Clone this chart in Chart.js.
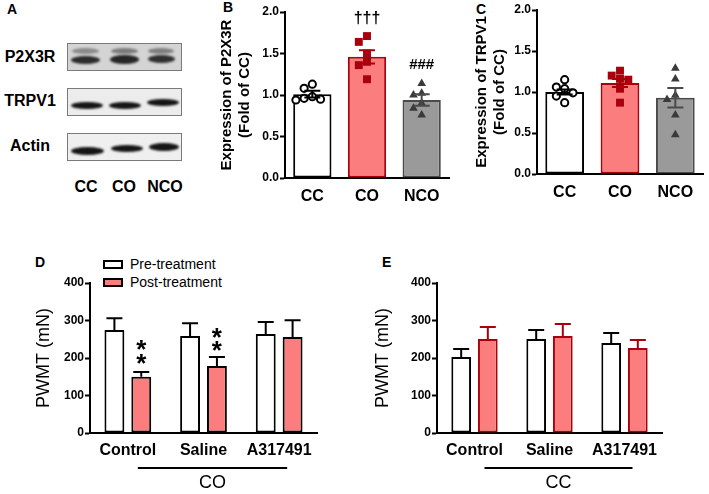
<!DOCTYPE html>
<html>
<head>
<meta charset="utf-8">
<script src="https://cdn.jsdelivr.net/npm/chart.js@4.4.1/dist/chart.umd.min.js"></script>
<style>
  body { margin: 0; background: #fff; }
  #fig { position: relative; width: 709px; height: 494px; overflow: hidden; background: #fff;
         font-family: 'Liberation Sans', Arial, sans-serif; color: #000; }
  #fig canvas { position: absolute; }
  .letter { position: absolute; font-weight: bold; font-size: 14px; line-height: 1; }
  .blotname { position: absolute; left: 0; width: 60px; text-align: center; font-weight: bold; font-size: 16px; line-height: 18px; }
  .lane { position: absolute; top: 178px; font-weight: bold; font-size: 16px; line-height: 18px; width: 44px; text-align: center; }
  .blot { position: absolute; left: 67px; width: 115px; height: 28px; border: 1.5px solid #7a7a7a; box-sizing: border-box; overflow: hidden; }
  .band { position: absolute; border-radius: 50%; background: #151515; filter: blur(1.3px); }
  .key { position: absolute; left: 103px; width: 20px; height: 9px; border: 2px solid #000; box-sizing: border-box; }
  .keytxt { position: absolute; left: 130px; font-size: 14px; line-height: 16px; }
</style>
</head>
<body>
<div id="fig">
  <!-- panel A: blot picture -->
  <div class="letter" style="left:7px;top:2px">A</div>
  <div class="blotname" style="top:48px">P2X3R</div>
  <div class="blotname" style="top:92px">TRPV1</div>
  <div class="blotname" style="top:137px">Actin</div>
  <div class="blot" style="top:43px;background:#d4d4d4">
    <div class="band" style="left:4px;top:4px;width:27px;height:6px;background:#8a8a8a"></div>
    <div class="band" style="left:3px;top:12px;width:29px;height:8px;background:#2c2c2c"></div>
    <div class="band" style="left:43px;top:4px;width:27px;height:6px;background:#7a7a7a"></div>
    <div class="band" style="left:42px;top:11px;width:29px;height:9px;background:#262626"></div>
    <div class="band" style="left:80px;top:4px;width:26px;height:6px;background:#7e7e7e"></div>
    <div class="band" style="left:80px;top:11px;width:27px;height:8px;background:#303030"></div>
  </div>
  <div class="blot" style="top:88px;background:#ececec">
    <div class="band" style="left:3px;top:13px;width:32px;height:7px"></div>
    <div class="band" style="left:41px;top:13px;width:32px;height:7px"></div>
    <div class="band" style="left:79px;top:10px;width:32px;height:7px"></div>
  </div>
  <div class="blot" style="top:133px;background:#efefef">
    <div class="band" style="left:3px;top:13px;width:33px;height:8px"></div>
    <div class="band" style="left:43px;top:11px;width:32px;height:7px"></div>
    <div class="band" style="left:81px;top:9px;width:30px;height:8px"></div>
  </div>
  <div class="lane" style="left:64px">CC</div>
  <div class="lane" style="left:102px">CO</div>
  <div class="lane" style="left:143px">NCO</div>

  <div class="letter" style="left:223px;top:0px">B</div>
  <div class="letter" style="left:476px;top:2px">C</div>
  <div class="letter" style="left:35px;top:255px">D</div>
  <div class="letter" style="left:382px;top:255px">E</div>

  <div class="key" style="top:260px;background:#fff"></div>
  <div class="keytxt" style="top:256px">Pre-treatment</div>
  <div class="key" style="top:278px;background:#fb7d7d"></div>
  <div class="keytxt" style="top:274px">Post-treatment</div>

  <canvas id="chartB" width="265" height="215" style="left:190px;top:0px"></canvas>
  <canvas id="chartC" width="269" height="215" style="left:440px;top:0px"></canvas>
  <canvas id="chartD" width="330" height="244" style="left:0px;top:250px"></canvas>
  <canvas id="chartE" width="349" height="244" style="left:360px;top:250px"></canvas>
</div>

<script>
// ---- data ----
const groupsBC = ['CC', 'CO', 'NCO'];

// B: P2X3R expression (fold of CC)
const p2x3Mean = [1.01, 1.46, 0.94];
const p2x3Sem = [0.04, 0.08, 0.07];
const p2x3CC = [1.13, 1.08, 0.98, 0.96, 0.95, 0.94];
const p2x3CO = [1.71, 1.64, 1.50, 1.40, 1.36, 1.19];
const p2x3NCO = [1.14, 1.02, 1.00, 0.90, 0.84, 0.76];

// C: TRPV1 expression (fold of CC)
const trpv1Mean = [1.00, 1.11, 0.93];
const trpv1Sem = [0.03, 0.05, 0.12];
const trpv1CC = [1.15, 1.06, 1.04, 0.99, 0.95, 0.87];
const trpv1CO = [1.26, 1.20, 1.16, 1.15, 1.04, 0.87];
const trpv1NCO = [1.29, 1.16, 0.96, 0.91, 0.72, 0.48];

// D / E: PWMT (mN)
const treatments = ['Control', 'Saline', 'A317491'];
const coPreMean = [275, 259, 264];
const coPreSem = [31, 34, 32];
const coPostMean = [150, 179, 256];
const coPostSem = [13, 24, 45];
const ccPreMean = [203, 251, 240];
const ccPreSem = [21, 24, 27];
const ccPostMean = [251, 259, 227];
const ccPostSem = [32, 32, 21];

// ---- look ----
const FONT = "'Liberation Sans', Arial, sans-serif";
const SALMON = '#fb7d7d';
const DARKRED = '#a8000c';
const GREY = '#9a9a9a';
const DARKGREY = '#4a4a4a';

Chart.defaults.font.family = FONT;
Chart.defaults.color = '#000';
Chart.defaults.animation = false;
Chart.defaults.plugins.legend.display = false;
Chart.defaults.plugins.tooltip.enabled = false;

// spread the dots of one group sideways so they don't sit on top of each other
function swarm(vals, center) {
  const dx = 0.15, dy = 0.1;
  const placed = [];
  return vals.map(v => {
    for (let k = 0; k < 12; k++) {
      const off = k === 0 ? 0 : (k % 2 ? -1 : 1) * Math.ceil(k / 2) * dx;
      const hit = placed.some(p => ((p.x - off) / dx) ** 2 + ((p.y - v) / dy) ** 2 < 0.95);
      if (!hit) {
        placed.push({ x: off, y: v });
        return { x: center + off, y: v };
      }
    }
    return { x: center, y: v };
  });
}

// SEM whiskers on top of the bars
const errorBars = {
  id: 'errorBars',
  afterDatasetsDraw(chart) {
    const ctx = chart.ctx, y = chart.scales.y;
    chart.data.datasets.forEach((ds, i) => {
      if (!ds.sem) return;
      const meta = chart.getDatasetMeta(i);
      ctx.save();
      ctx.lineWidth = 2;
      meta.data.forEach((bar, j) => {
        const v = ds.data[j], e = ds.sem[j];
        const top = y.getPixelForValue(v + e);
        const bot = ds.semBoth ? y.getPixelForValue(v - e) : y.getPixelForValue(v);
        const w = ds.capWidth / 2;
        ctx.strokeStyle = Array.isArray(ds.semColor) ? ds.semColor[j] : ds.semColor;
        ctx.beginPath();
        ctx.moveTo(bar.x, bot);
        ctx.lineTo(bar.x, top);
        ctx.moveTo(bar.x - w, top);
        ctx.lineTo(bar.x + w, top);
        if (ds.semBoth) {
          ctx.moveTo(bar.x - w, bot);
          ctx.lineTo(bar.x + w, bot);
        }
        ctx.stroke();
      });
      ctx.restore();
    });
  }
};

// significance marks (†, #, *)
const notes = {
  id: 'notes',
  afterDatasetsDraw(chart, args, opts) {
    if (!opts.items) return;
    const ctx = chart.ctx, x = chart.scales.x, y = chart.scales.y;
    ctx.save();
    ctx.textAlign = 'center';
    ctx.textBaseline = 'middle';
    opts.items.forEach(n => {
      const px = n.dataset != null ? chart.getDatasetMeta(n.dataset).data[n.index].x : x.getPixelForValue(n.index);
      ctx.font = (n.bold ? 'bold ' : '') + n.size + 'px ' + FONT;
      ctx.fillStyle = '#000';
      ctx.fillText(n.text, px, y.getPixelForValue(n.value) + (n.dy || 0));
    });
    ctx.restore();
  }
};

// line under the three treatments with the group name
const groupLine = {
  id: 'groupLine',
  afterDraw(chart, args, opts) {
    if (!opts.label) return;
    const ctx = chart.ctx, x = chart.scales.x;
    const x0 = x.getPixelForValue(0) + 10, x1 = x.getPixelForValue(2) + 8;
    const yl = chart.chartArea.bottom + 35;
    ctx.save();
    ctx.strokeStyle = '#000';
    ctx.lineWidth = 2;
    ctx.beginPath();
    ctx.moveTo(x0, yl);
    ctx.lineTo(x1, yl);
    ctx.stroke();
    ctx.font = '18px ' + FONT;
    ctx.fillStyle = '#000';
    ctx.textAlign = 'center';
    ctx.textBaseline = 'middle';
    ctx.fillText(opts.label, (x0 + x1) / 2, yl + 15);
    ctx.restore();
  }
};

function yAxis(max, step, digits, title, titleFont, titlePad, width) {
  return {
    min: 0, max: max,
    ticks: { stepSize: step, padding: 1, font: { size: 12, weight: 'bold' }, callback: v => v.toFixed(digits) },
    grid: { drawOnChartArea: false, tickLength: 5, tickWidth: 2, color: '#000' },
    border: { color: '#000', width: 2 },
    title: { display: true, text: title, font: titleFont, padding: { top: titlePad, bottom: 0 } },
    afterFit: s => { s.width = width; }
  };
}

function xAxis(height, pad) {
  return {
    grid: { display: false, drawTicks: false },
    border: { color: '#000', width: 2 },
    ticks: { padding: pad, font: { size: 16, weight: 'bold' } },
    afterFit: s => { s.height = height; }
  };
}

function expressionChart(id, mean, sem, cc, co, nco, title, titlePad, yWidth, xHeight, padding, marks) {
  return new Chart(document.getElementById(id), {
    type: 'bar',
    data: {
      labels: groupsBC,
      datasets: [
        {
          type: 'scatter', xAxisID: 'xs', data: swarm(cc, 0), order: 0,
          pointStyle: 'circle', pointRadius: 3.6, pointBorderWidth: 2,
          pointBackgroundColor: '#fff', pointBorderColor: '#000'
        },
        {
          type: 'scatter', xAxisID: 'xs', data: swarm(co, 1), order: 0,
          pointStyle: 'rect', pointRadius: 5.6, pointBorderWidth: 0,
          pointBackgroundColor: DARKRED, pointBorderColor: DARKRED
        },
        {
          type: 'scatter', xAxisID: 'xs', data: swarm(nco, 2), order: 0,
          pointStyle: 'triangle', pointRadius: 5, pointBorderWidth: 0,
          pointBackgroundColor: '#3a3a3a', pointBorderColor: '#3a3a3a'
        },
        {
          type: 'bar', data: mean, order: 1, grouped: false,
          backgroundColor: ['#fff', SALMON, GREY],
          borderColor: ['#000', DARKRED, DARKGREY],
          borderWidth: 2, borderSkipped: false,
          barPercentage: 0.7, categoryPercentage: 1,
          sem: sem, semBoth: true, semColor: ['#000', DARKRED, DARKGREY], capWidth: 16
        }
      ]
    },
    options: {
      responsive: false,
      layout: { padding: padding },
      scales: {
        x: xAxis(xHeight, 9),
        // hidden numeric twin of the category axis, so the dots can sit side by side
        xs: { type: 'linear', display: false, offset: false, min: -0.5, max: 2.5 },
        y: yAxis(2, 0.5, 1, title, { size: 15, weight: 'bold' }, titlePad, yWidth)
      },
      plugins: { notes: { items: marks } }
    },
    plugins: [errorBars, notes]
  });
}

function pwmtChart(id, pre, preSem, post, postSem, postBorder, group, titlePad, yWidth, padding, marks) {
  return new Chart(document.getElementById(id), {
    type: 'bar',
    data: {
      labels: treatments,
      datasets: [
        {
          label: 'Pre-treatment', data: pre,
          backgroundColor: '#fff', borderColor: '#000', borderWidth: 2, borderSkipped: false,
          barPercentage: 0.74, categoryPercentage: 0.71,
          sem: preSem, semBoth: false, semColor: '#000', capWidth: 16
        },
        {
          label: 'Post-treatment', data: post,
          backgroundColor: SALMON, borderColor: postBorder, borderWidth: 2, borderSkipped: false,
          barPercentage: 0.74, categoryPercentage: 0.71,
          sem: postSem, semBoth: false, semColor: postBorder, capWidth: 16
        }
      ]
    },
    options: {
      responsive: false,
      layout: { padding: padding },
      scales: {
        x: xAxis(61, 8),
        y: yAxis(400, 100, 0, 'PWMT (mN)', { size: 18 }, titlePad, yWidth)
      },
      plugins: { notes: { items: marks }, groupLine: { label: group } }
    },
    plugins: [errorBars, notes, groupLine]
  });
}

expressionChart('chartB', p2x3Mean, p2x3Sem, p2x3CC, p2x3CO, p2x3NCO,
  ['Expression of P2X3R', '(Fold of CC)'], 28, 95, 37,
  { top: 12, right: 3, left: 0, bottom: 0 },
  [
    { text: '\u2020\u2020\u2020', index: 1, value: 1.92, size: 16, bold: true },
    { text: '###', index: 2, value: 1.36, size: 15, bold: true }
  ]);

expressionChart('chartC', trpv1Mean, trpv1Sem, trpv1CC, trpv1CO, trpv1NCO,
  ['Expression of TRPV1', '(Fold of CC)'], 33, 97, 41,
  { top: 10, right: 4, left: 0, bottom: 0 },
  []);

pwmtChart('chartD', coPreMean, coPreSem, coPostMean, coPostSem, '#000', 'CO', 33, 90,
  { top: 33, right: 13, left: 0, bottom: 0 },
  [
    { text: '*', dataset: 1, index: 0, value: 235, size: 26, bold: true, dy: 6 },
    { text: '*', dataset: 1, index: 0, value: 198, size: 26, bold: true, dy: 6 },
    { text: '*', dataset: 1, index: 1, value: 267, size: 26, bold: true, dy: 6 },
    { text: '*', dataset: 1, index: 1, value: 232, size: 26, bold: true, dy: 6 }
  ]);

pwmtChart('chartE', ccPreMean, ccPreSem, ccPostMean, ccPostSem, DARKRED, 'CC', 12, 77,
  { top: 33, right: 47, left: 0, bottom: 0 },
  []);
</script>
</body>
</html>
